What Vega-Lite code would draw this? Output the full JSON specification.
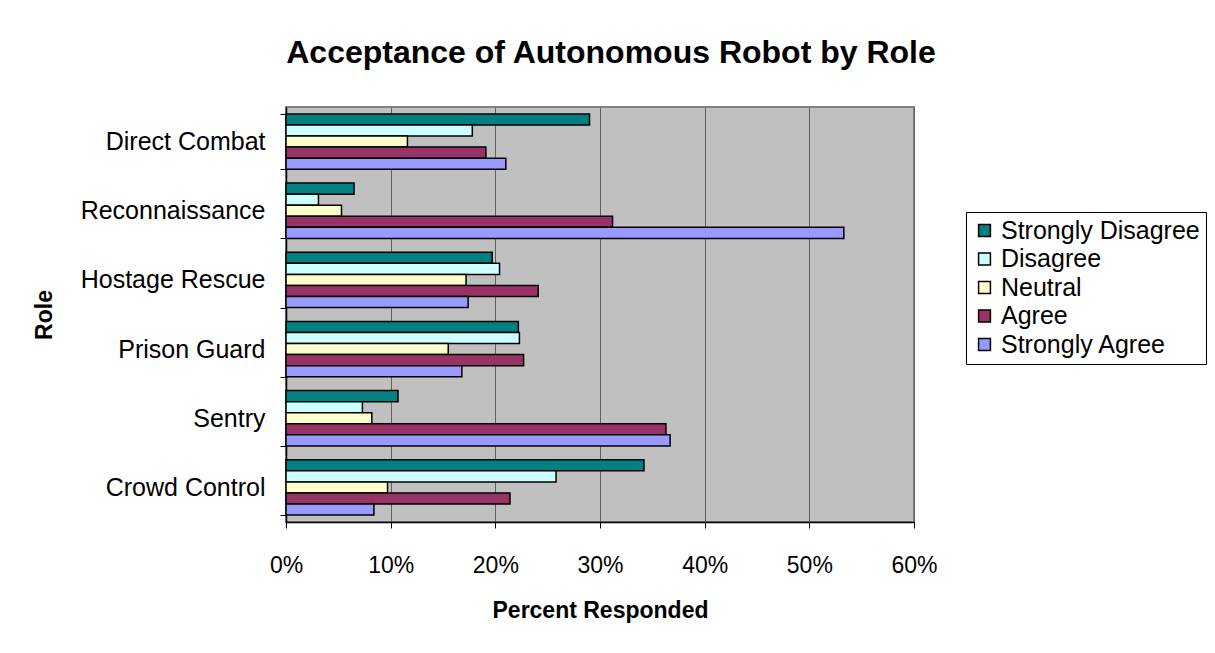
{
  "$schema": "https://vega.github.io/schema/vega-lite/v6.json",
  "width": 628,
  "height": 415,
  "autosize": {"type": "none"},
  "padding": {"left": 286, "top": 107, "right": 301, "bottom": 131},
  "background": "white",
  "title": {
    "text": "Acceptance of Autonomous Robot by Role",
    "font": "Liberation Sans",
    "fontSize": 32,
    "fontWeight": "bold",
    "color": "black",
    "anchor": "middle",
    "offset": 25,
    "dx": 11
  },
  "data": {
    "values": [
      {"role": "Direct Combat", "response": "Strongly Disagree", "pct": 0.290},
      {"role": "Direct Combat", "response": "Disagree", "pct": 0.178},
      {"role": "Direct Combat", "response": "Neutral", "pct": 0.116},
      {"role": "Direct Combat", "response": "Agree", "pct": 0.191},
      {"role": "Direct Combat", "response": "Strongly Agree", "pct": 0.210},
      {"role": "Reconnaissance", "response": "Strongly Disagree", "pct": 0.065},
      {"role": "Reconnaissance", "response": "Disagree", "pct": 0.031},
      {"role": "Reconnaissance", "response": "Neutral", "pct": 0.053},
      {"role": "Reconnaissance", "response": "Agree", "pct": 0.312},
      {"role": "Reconnaissance", "response": "Strongly Agree", "pct": 0.533},
      {"role": "Hostage Rescue", "response": "Strongly Disagree", "pct": 0.197},
      {"role": "Hostage Rescue", "response": "Disagree", "pct": 0.204},
      {"role": "Hostage Rescue", "response": "Neutral", "pct": 0.172},
      {"role": "Hostage Rescue", "response": "Agree", "pct": 0.241},
      {"role": "Hostage Rescue", "response": "Strongly Agree", "pct": 0.174},
      {"role": "Prison Guard", "response": "Strongly Disagree", "pct": 0.222},
      {"role": "Prison Guard", "response": "Disagree", "pct": 0.223},
      {"role": "Prison Guard", "response": "Neutral", "pct": 0.155},
      {"role": "Prison Guard", "response": "Agree", "pct": 0.227},
      {"role": "Prison Guard", "response": "Strongly Agree", "pct": 0.168},
      {"role": "Sentry", "response": "Strongly Disagree", "pct": 0.107},
      {"role": "Sentry", "response": "Disagree", "pct": 0.073},
      {"role": "Sentry", "response": "Neutral", "pct": 0.082},
      {"role": "Sentry", "response": "Agree", "pct": 0.363},
      {"role": "Sentry", "response": "Strongly Agree", "pct": 0.367},
      {"role": "Crowd Control", "response": "Strongly Disagree", "pct": 0.342},
      {"role": "Crowd Control", "response": "Disagree", "pct": 0.258},
      {"role": "Crowd Control", "response": "Neutral", "pct": 0.097},
      {"role": "Crowd Control", "response": "Agree", "pct": 0.214},
      {"role": "Crowd Control", "response": "Strongly Agree", "pct": 0.084}
    ]
  },
  "mark": {"type": "bar", "stroke": "black", "strokeWidth": 1.5},
  "encoding": {
    "y": {
      "field": "role",
      "type": "nominal",
      "sort": ["Direct Combat", "Reconnaissance", "Hostage Rescue", "Prison Guard", "Sentry", "Crowd Control"],
      "scale": {"paddingInner": 0.2, "paddingOuter": 0.1},
      "axis": {
        "title": "Role",
        "titleFont": "Liberation Sans",
        "titleFontSize": 23,
        "titleFontWeight": "bold",
        "titleColor": "black",
        "titlePadding": 30,
        "labelFont": "Liberation Sans",
        "labelFontSize": 25,
        "labelColor": "black",
        "labelPadding": 15,
        "labelLimit": 300,
        "tickBand": "extent",
        "tickColor": "black",
        "tickSize": 6,
        "domainColor": "black",
        "domainWidth": 1.5,
        "grid": false
      }
    },
    "yOffset": {
      "field": "response",
      "sort": ["Strongly Disagree", "Disagree", "Neutral", "Agree", "Strongly Agree"],
      "scale": {"paddingInner": 0, "paddingOuter": 0}
    },
    "x": {
      "field": "pct",
      "type": "quantitative",
      "scale": {"domain": [0, 0.6], "nice": false},
      "axis": {
        "title": "Percent Responded",
        "titleFont": "Liberation Sans",
        "titleFontSize": 23,
        "titleFontWeight": "bold",
        "titleColor": "black",
        "titlePadding": 22,
        "format": ".0%",
        "values": [0, 0.1, 0.2, 0.3, 0.4, 0.5, 0.6],
        "labelFont": "Liberation Sans",
        "labelFontSize": 23,
        "labelColor": "black",
        "labelPadding": 26,
        "labelFlush": false,
        "tickColor": "black",
        "tickSize": 6,
        "domainColor": "black",
        "domainWidth": 1.5,
        "grid": true,
        "gridColor": "#606060",
        "gridWidth": 1
      }
    },
    "color": {
      "field": "response",
      "type": "nominal",
      "sort": ["Strongly Disagree", "Disagree", "Neutral", "Agree", "Strongly Agree"],
      "scale": {
        "domain": ["Strongly Disagree", "Disagree", "Neutral", "Agree", "Strongly Agree"],
        "range": ["#008080", "#CCFFFF", "#FFFFCC", "#993366", "#9999FF"]
      },
      "legend": {
        "title": null,
        "orient": "none",
        "legendX": 680,
        "legendY": 105,
        "symbolType": "square",
        "symbolSize": 140,
        "symbolStrokeColor": "black",
        "symbolStrokeWidth": 1.5,
        "labelFont": "Liberation Sans",
        "labelFontSize": 25,
        "labelColor": "black",
        "labelOffset": 4,
        "labelLimit": 400,
        "rowPadding": 2.5,
        "padding": 6,
        "strokeColor": "black",
        "fillColor": "white"
      }
    }
  },
  "config": {
    "view": {"fill": "#C0C0C0", "stroke": "#808080", "strokeWidth": 2}
  }
}
